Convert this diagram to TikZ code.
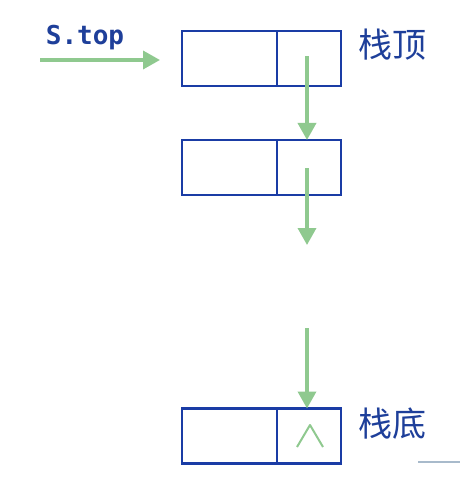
\documentclass[tikz,border=0pt]{standalone}
\usepackage{fontspec}
\newfontfamily\cjk{Noto Sans CJK SC}
\newfontfamily\monof{DejaVu Sans Mono}
\usetikzlibrary{arrows.meta}
\definecolor{boxblue}{HTML}{1A3CA5}
\definecolor{txtblue}{HTML}{1E3F9A}
\definecolor{arrgreen}{HTML}{8FC98F}
\definecolor{faint}{HTML}{A8BACB}
\tikzset{
  cell/.style={draw=boxblue, line width=2.3pt, minimum height=55pt, inner sep=0pt, outer sep=0pt},
  lcell/.style={cell, minimum width=95pt},
  rcell/.style={cell, minimum width=64pt},
  ptr/.style={draw=arrgreen, line width=3.5pt, -{Triangle[length=17pt,width=18pt]}},
  lbl/.style={text=txtblue, inner sep=0pt},
}
\begin{document}
\begin{tikzpicture}[x=1pt,y=-1pt]
\path[fill=white] (0,0) rectangle (460,486);
\useasboundingbox (0,0) rectangle (460,486);
% boxes
\node[lcell] (a1) at (229.5,58.5) {};
\node[rcell] (b1) at (309,58.5) {};
\node[lcell] (a2) at (229.5,167.5) {};
\node[rcell] (b2) at (309,167.5) {};
\node[lcell] (a3) at (229.5,436) {};
\node[rcell] (b3) at (309,436) {};
% labels
\node[lbl, font=\monof\bfseries\fontsize{26}{28}\selectfont] (stop) at (85,38) {S.top};
\node[lbl, font=\cjk\fontsize{34}{36}\selectfont] (top) at (392,45) {栈顶};
\node[lbl, font=\cjk\fontsize{34}{36}\selectfont] (bot) at (392,424) {栈底};
% pointers
\coordinate (s0) at (40,60);
\coordinate (s1) at (160,60);
\draw[ptr] (s0) -- (s1);
\draw[ptr] ([xshift=-2pt,yshift=2pt]b1.center) -- ([xshift=-2pt]b2.north);
\coordinate (m1) at (307,245);
\draw[ptr] ([xshift=-2pt,yshift=-1pt]b2.center) -- (m1);
\coordinate (m2) at (307,328);
\draw[ptr] (m2) -- ([xshift=-2pt]b3.north);
% null mark
\draw[arrgreen, line width=2pt, line join=round] (297,447) -- (310,425) -- (323,447);
% faint stroke at bottom right
\coordinate (f0) at (418,462);
\coordinate (f1) at (460,462);
\draw[faint, line width=2pt] (f0) -- (f1);
\end{tikzpicture}
\end{document}
